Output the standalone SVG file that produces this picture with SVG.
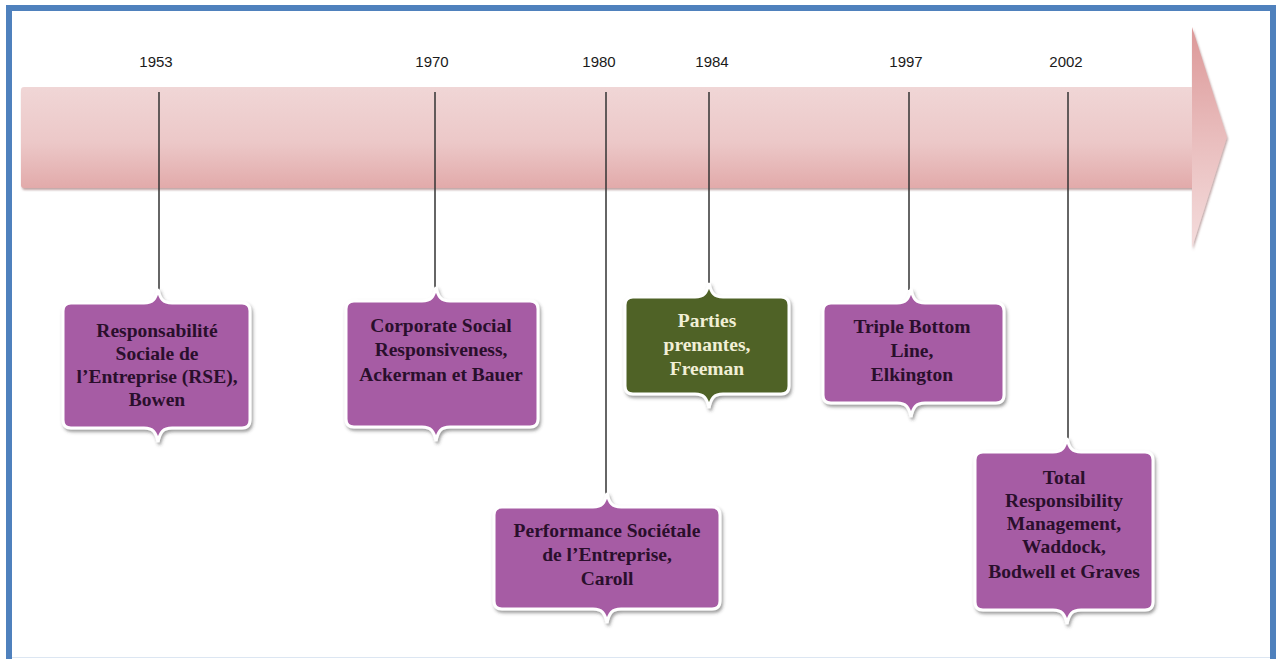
<svg xmlns="http://www.w3.org/2000/svg" width="1277" height="659" viewBox="0 0 1277 659">
<defs>
<linearGradient id="gBody" x1="0" y1="0" x2="0" y2="1">
<stop offset="0" stop-color="#F0D6D6"/>
<stop offset="0.55" stop-color="#ECC8C8"/>
<stop offset="1" stop-color="#E2AAAA"/>
</linearGradient>
<linearGradient id="gHead" x1="0" y1="0" x2="0" y2="1">
<stop offset="0" stop-color="#DC9898"/>
<stop offset="0.5" stop-color="#E9BDBD"/>
<stop offset="1" stop-color="#F4DCDC"/>
</linearGradient>
<filter id="arrowShadow" x="-5%" y="-10%" width="110%" height="130%">
<feDropShadow dx="1" dy="2" stdDeviation="1.2" flood-color="#8A5A5A" flood-opacity="0.55"/>
</filter>
<filter id="boxShadow" x="-10%" y="-10%" width="120%" height="130%">
<feDropShadow dx="1.5" dy="2.5" stdDeviation="1.5" flood-color="#3A3A3A" flood-opacity="0.5"/>
</filter>
</defs>
<style>
.year{font-family:"Liberation Sans",Arial,sans-serif;font-size:15px;fill:#1A1A1A;text-anchor:middle}
.lbl{font-family:"Liberation Serif","Times New Roman",serif;font-weight:bold;font-size:19.5px;fill:#2A0F2C;text-anchor:middle}
.lblg{font-family:"Liberation Serif","Times New Roman",serif;font-weight:bold;font-size:19.5px;fill:#F1EFD6;text-anchor:middle}
.plaque{fill:#A65CA4;stroke:#FFFFFF;stroke-width:3;filter:url(#boxShadow)}
.plaqueg{fill:#4F6228;stroke:#FFFFFF;stroke-width:3;filter:url(#boxShadow)}
.conn{stroke:#333;stroke-width:1.5;fill:none}
</style>
<rect x="0" y="0" width="1277" height="659" fill="#FFFFFF"/>
<rect x="9" y="8" width="1264" height="660" fill="none" stroke="#4F81BD" stroke-width="6"/>
<line x1="12" y1="657.5" x2="1270" y2="657.5" stroke="#DCE6F2" stroke-width="1"/>

<g id="timeline-arrow" filter="url(#arrowShadow)">
<path d="M24,87 L1193,87 L1193,188 L24,188 Q21,188 21,185 L21,90 Q21,87 24,87 Z" fill="url(#gBody)"/>
<path d="M1192,27 L1227,137 L1192,248 Z" fill="url(#gHead)"/>
</g>

<g id="years">
<text class="year" x="156" y="67">1953</text>
<text class="year" x="432" y="67">1970</text>
<text class="year" x="599" y="67">1980</text>
<text class="year" x="712" y="67">1984</text>
<text class="year" x="906" y="67">1997</text>
<text class="year" x="1066" y="67">2002</text>
</g>

<g id="connectors">
<line class="conn" x1="159" y1="92" x2="159" y2="290"/>
<line class="conn" x1="435" y1="92" x2="435" y2="288"/>
<line class="conn" x1="606" y1="92" x2="606" y2="494"/>
<line class="conn" x1="709" y1="92" x2="709" y2="284"/>
<line class="conn" x1="909" y1="92" x2="909" y2="290"/>
<line class="conn" x1="1068" y1="92" x2="1068" y2="439"/>
</g>

<g id="node-1953">
<path class="plaque" d="M71,303 L144,303 C153,303 156,299 158,289 C160,299 163,303 172,303 L242,303 Q250,303 250,311 L250,420 Q250,428 242,428 L172,428 C163,428 160,432 158,442 C156,432 153,428 144,428 L71,428 Q63,428 63,420 L63,311 Q63,303 71,303 Z"/>
<text class="lbl" x="157" y="337">Responsabilité</text>
<text class="lbl" x="157" y="360">Sociale de</text>
<text class="lbl" x="157" y="383">l’Entreprise (RSE),</text>
<text class="lbl" x="157" y="406">Bowen</text>
</g>

<g id="node-1970">
<path class="plaque" d="M354,301 L422,301 C431,301 434,297 436,287 C438,297 441,301 450,301 L530,301 Q538,301 538,309 L538,419 Q538,427 530,427 L450,427 C441,427 438,431 436,441 C434,431 431,427 422,427 L354,427 Q346,427 346,419 L346,309 Q346,301 354,301 Z"/>
<text class="lbl" x="441" y="332">Corporate Social</text>
<text class="lbl" x="441" y="356">Responsiveness,</text>
<text class="lbl" x="441" y="381">Ackerman et Bauer</text>
</g>

<g id="node-1980">
<path class="plaque" d="M502,507 L593,507 C602,507 605,503 607,493 C609,503 612,507 621,507 L712,507 Q720,507 720,515 L720,601 Q720,609 712,609 L621,609 C612,609 609,613 607,623 C605,613 602,609 593,609 L502,609 Q494,609 494,601 L494,515 Q494,507 502,507 Z"/>
<text class="lbl" x="607" y="537">Performance Sociétale</text>
<text class="lbl" x="607" y="561">de l’Entreprise,</text>
<text class="lbl" x="607" y="585">Caroll</text>
</g>

<g id="node-1984">
<path class="plaqueg" d="M633,297 L695,297 C704,297 707,293 709,283 C711,293 714,297 723,297 L781,297 Q789,297 789,305 L789,386 Q789,394 781,394 L723,394 C714,394 711,398 709,408 C707,398 704,394 695,394 L633,394 Q625,394 625,386 L625,305 Q625,297 633,297 Z"/>
<text class="lblg" x="707" y="327">Parties</text>
<text class="lblg" x="707" y="351">prenantes,</text>
<text class="lblg" x="707" y="375">Freeman</text>
</g>

<g id="node-1997">
<path class="plaque" d="M831,303 L897,303 C906,303 909,299 911,289 C913,299 916,303 925,303 L996,303 Q1004,303 1004,311 L1004,395 Q1004,403 996,403 L925,403 C916,403 913,407 911,417 C909,407 906,403 897,403 L831,403 Q823,403 823,395 L823,311 Q823,303 831,303 Z"/>
<text class="lbl" x="912" y="333">Triple Bottom</text>
<text class="lbl" x="912" y="357">Line,</text>
<text class="lbl" x="912" y="381">Elkington</text>
</g>

<g id="node-2002">
<path class="plaque" d="M983,452 L1053,452 C1062,452 1065,448 1067,438 C1069,448 1072,452 1081,452 L1145,452 Q1153,452 1153,460 L1153,602 Q1153,610 1145,610 L1081,610 C1072,610 1069,614 1067,624 C1065,614 1062,610 1053,610 L983,610 Q975,610 975,602 L975,460 Q975,452 983,452 Z"/>
<text class="lbl" x="1064" y="484">Total</text>
<text class="lbl" x="1064" y="507">Responsibility</text>
<text class="lbl" x="1064" y="530">Management,</text>
<text class="lbl" x="1064" y="553">Waddock,</text>
<text class="lbl" x="1064" y="578">Bodwell et Graves</text>
</g>
</svg>
